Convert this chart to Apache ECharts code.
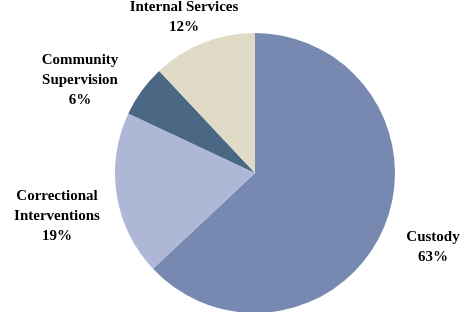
<!DOCTYPE html>
<html><head><meta charset="utf-8">
<script src="https://cdn.jsdelivr.net/npm/echarts@6/dist/echarts.min.js"></script>
<style>html,body{margin:0;padding:0;background:#fff}#c{width:464px;height:312px}</style>
</head><body><div id="c"></div>
<script>
const categories = ["Custody", "Correctional Interventions", "Community Supervision", "Internal Services"];
const values = [63, 19, 6, 12];
const labelLines = [["Custody"], ["Correctional", "Interventions"], ["Community", "Supervision"], ["Internal Services"]];
const colors = ["#7789B1", "#AEB8D6", "#4A6784", "#DFDBC7"];
const labelPos = [[433, 247], [57, 216], [80, 80], [184, 17]];

const chart = echarts.init(document.getElementById('c'), null, {renderer: 'canvas'});
chart.setOption({
  animation: false,
  series: [{
    type: 'pie',
    center: [255, 173],
    radius: [0, 140],
    startAngle: 90,
    clockwise: true,
    data: categories.map((n, i) => ({name: n, value: values[i], itemStyle: {color: colors[i]}})),
    label: {
      show: true,
      position: 'outside',
      formatter: p => labelLines[p.dataIndex].join('\n') + '\n' + p.value + '%',
      fontFamily: '"Liberation Serif", serif',
      fontWeight: 'bold',
      fontSize: 15,
      lineHeight: 20,
      color: '#000',
      align: 'center',
      overflow: 'none',
      width: 200
    },
    labelLine: {show: false},
    labelLayout: p => ({x: labelPos[p.dataIndex][0], y: labelPos[p.dataIndex][1], align: 'center', verticalAlign: 'middle', width: 200}),
    emphasis: {disabled: true}
  }]
});
</script></body></html>
